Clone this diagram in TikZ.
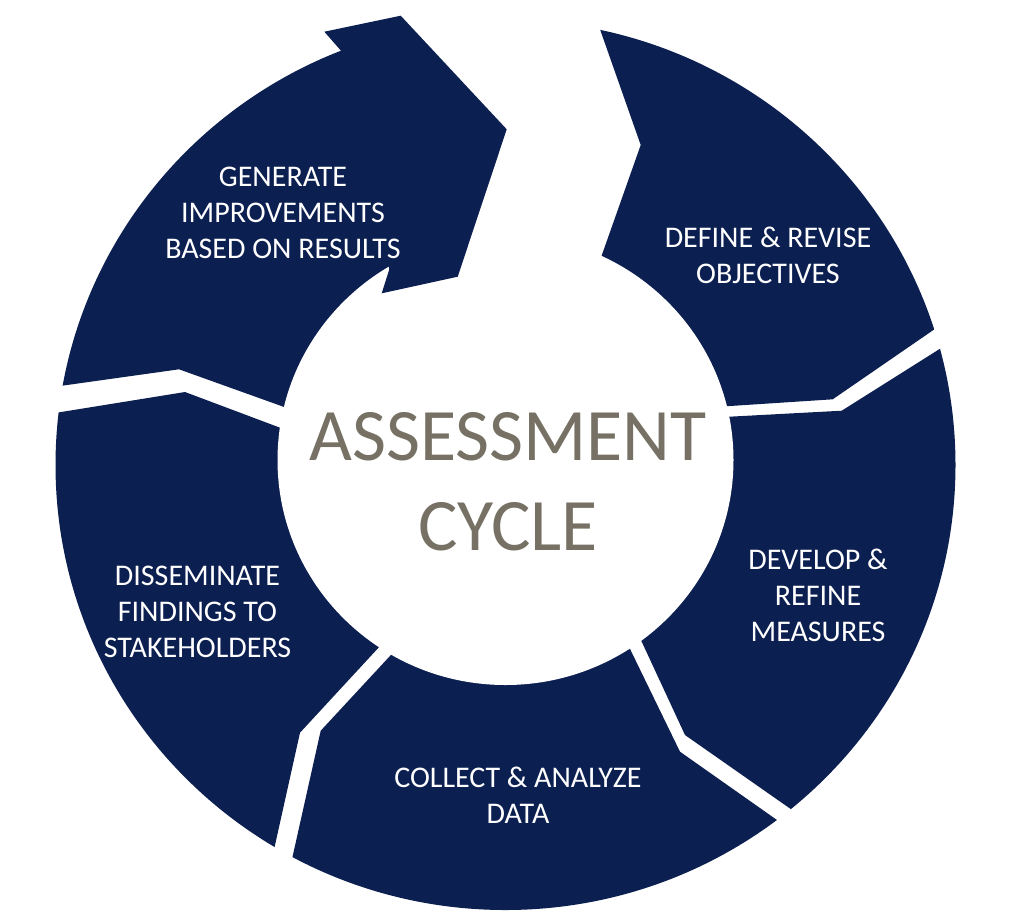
\documentclass[tikz,border=0pt]{standalone}
\usepackage{fontspec}
\setmainfont{Carlito}
\usetikzlibrary{calc}
\definecolor{navy}{HTML}{0C1F51}
\definecolor{ctext}{HTML}{767164}
\begin{document}
\begin{tikzpicture}[x=1pt,y=-1pt,
  seg/.style={fill=navy},
  lbl/.style={text=white, align=center, font=\fontsize{30}{36}\selectfont, inner sep=0pt},
  ctr/.style={text=ctext, align=center, font=\fontsize{74}{90}\selectfont, inner sep=0pt}]
\useasboundingbox (0,0) rectangle (1024,914);
\coordinate (O) at (505.5,460);
% DEFINE
\coordinate (A1) at (599.3,27.3);  \coordinate (A2) at (640.7,145);   \coordinate (A3) at (600.7,258.3);
\coordinate (A4) at (730,406);     \coordinate (A5) at (832.7,399.3); \coordinate (A6) at (937.3,327.3);
% DEVELOP
\coordinate (B1) at (940.7,348.3); \coordinate (B2) at (841.7,410.7); \coordinate (B3) at (729.3,416.7);
\coordinate (B4) at (641.7,641.7); \coordinate (B5) at (685,735);     \coordinate (B6) at (788.3,807.3);
% COLLECT
\coordinate (C1) at (776,819.3);   \coordinate (C2) at (680,751.7);   \coordinate (C3) at (631,651);
\coordinate (C4) at (389.3,656.7); \coordinate (C5) at (320.7,730.7); \coordinate (C6) at (292.7,856);
% DISSEMINATE
\coordinate (D1) at (274.3,848.3); \coordinate (D2) at (300,732.7);   \coordinate (D3) at (375.7,650.7);
\coordinate (D4) at (280,427.7);   \coordinate (D5) at (185,392);     \coordinate (D6) at (59.3,412.3);
% GENERATE
\coordinate (E1) at (60,386);      \coordinate (E2) at (179,369.3);   \coordinate (E3) at (285,407.3);
\coordinate (H1) at (342.7,52.7);  \coordinate (H2) at (324.3,31.7);  \coordinate (H3) at (400.7,15.7);
\coordinate (H4) at (506.7,129.3); \coordinate (H5) at (457.7,276.7); \coordinate (H6) at (381.7,293.3);
\coordinate (H7) at (389.3,269.3);

\begin{scope}
\clip (O) -- ($(A2)!1.5!(A3)$) -- (A2) -- ($(A2)!1.5!(A1)$) -- (1100,-40) -- (1100,300)
  -- ($(A5)!1.5!(A6)$) -- (A5) -- ($(A5)!1.5!(A4)$) -- cycle;
\fill[seg] (505.5,465) ellipse [x radius=450, y radius=445];
\end{scope}
\begin{scope}
\clip (O) -- ($(B2)!1.5!(B3)$) -- (B2) -- ($(B2)!1.5!(B1)$) -- (1100,300) -- (1100,1000)
  -- ($(B5)!1.5!(B6)$) -- (B5) -- ($(B5)!1.5!(B4)$) -- cycle;
\fill[seg] (505.5,465) ellipse [x radius=450, y radius=445];
\end{scope}
\begin{scope}
\clip (O) -- ($(C2)!1.5!(C3)$) -- (C2) -- ($(C2)!1.5!(C1)$) -- (900,1000) -- (200,1000)
  -- ($(C5)!1.5!(C6)$) -- (C5) -- ($(C5)!1.5!(C4)$) -- cycle;
\fill[seg] (505.5,465) ellipse [x radius=450, y radius=445];
\end{scope}
\begin{scope}
\clip (O) -- ($(D2)!1.5!(D3)$) -- (D2) -- ($(D2)!1.5!(D1)$) -- (-100,1000) -- (-100,420)
  -- ($(D5)!1.5!(D6)$) -- (D5) -- ($(D5)!1.5!(D4)$) -- cycle;
\fill[seg] (505.5,465) ellipse [x radius=450, y radius=445];
\end{scope}
\begin{scope}
\clip (O) -- ($(E2)!1.5!(E3)$) -- (E2) -- ($(E2)!1.5!(E1)$) -- (-100,395) -- (-100,-100)
  -- ($(H7)!1.3!(H1)+(2.9,-0.6)$) -- ($(H1)!1.4!(H7)+(2.9,-0.6)$) -- cycle;
\fill[seg] (505.5,465) ellipse [x radius=450, y radius=445];
\end{scope}
% centre disc
\fill[white] (505.5,460) ellipse [x radius=228, y radius=225];
% arrow head of GENERATE
\fill[seg] (H1) -- (H2) -- (H3) -- (H4) -- (H5) -- (H6) -- (H7) -- cycle;

\node[lbl] (tdef) at (768,255) {DEFINE \& REVISE\\OBJECTIVES};
\node[lbl] (tdev) at (818,595) {DEVELOP \&\\REFINE\\MEASURES};
\node[lbl] (tcol) at (518,795.5) {COLLECT \& ANALYZE\\DATA};
\node[lbl] (tdis) at (197.5,611.5) {DISSEMINATE\\FINDINGS TO\\STAKEHOLDERS};
\node[lbl] (tgen) at (283,213) {GENERATE\\IMPROVEMENTS\\BASED ON RESULTS};
\node[ctr] (tctr) at (508,481.7) {ASSESSMENT\\CYCLE};
\end{tikzpicture}
\end{document}
